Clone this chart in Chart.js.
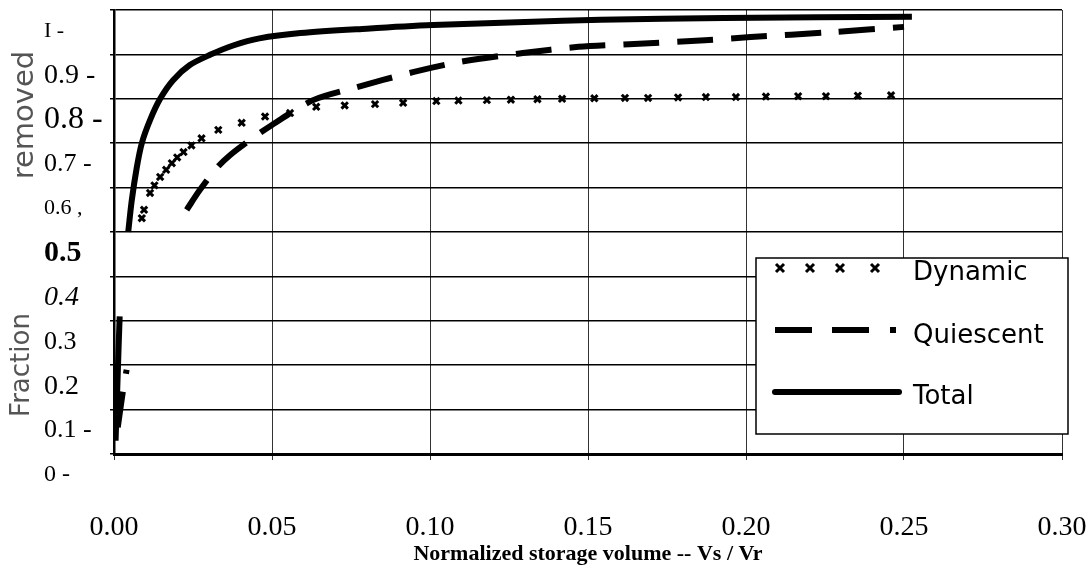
<!DOCTYPE html>
<html>
<head>
<meta charset="utf-8">
<script src="https://cdn.jsdelivr.net/npm/chart.js@4.4.1/dist/chart.umd.min.js"></script>
<style>
html,body{margin:0;padding:0;background:#fff;}
#wrap{width:1086px;height:576px;position:relative;}
</style>
</head>
<body>
<div id="wrap"><canvas id="chart" width="1086" height="576"></canvas></div>
<script>
// values (null = gap in the scan)
const totalX = [0.0005,0.0010,0.0015,0.0018,0.003,0.0045,0.0056,0.0072,0.0088,0.0114,0.0146,0.0187,0.024,0.0304,0.0377,0.046,0.059,0.08,0.101,0.13,0.154,0.193,0.2525];
const totalY = [0.03,0.14,0.25,0.31,null,0.50,0.57,0.645,0.70,0.752,0.80,0.842,0.876,0.899,0.92,0.936,0.948,0.958,0.966,0.973,0.978,0.982,0.985];

const quiesX = [0.0012,0.0028,0.004,0.01,0.023,0.0272,0.0325,0.0367,0.043,0.05,0.063,0.0757,0.0946,0.1095,0.1294,0.147,0.163,0.187,0.2015,0.227,0.250];
const quiesY = [0.06,0.14,0.19,null,0.55,0.595,0.644,0.673,0.707,0.741,0.797,0.824,0.86,0.883,0.903,0.917,0.923,0.932,0.939,0.95,0.962];

const dynX = [0.0088,0.0095,0.0114,0.0128,0.0146,0.0165,0.0183,0.020,0.022,0.0245,0.0277,0.033,0.0404,0.0478,0.0557,0.064,0.073,0.0826,0.0915,0.102,0.109,0.118,0.1256,0.134,0.1418,0.152,0.1617,0.169,0.1785,0.1873,0.1968,0.2063,0.2165,0.2253,0.2354,0.2459];
const dynY = [0.531,0.55,0.588,0.605,0.624,0.64,0.655,0.668,0.68,0.695,0.711,0.73,0.746,0.76,0.768,0.782,0.785,0.788,0.791,0.795,0.796,0.797,0.798,0.799,0.8,0.801,0.802,0.802,0.803,0.804,0.804,0.805,0.806,0.806,0.807,0.808];

const xTickLabels = ["0.00","0.05","0.10","0.15","0.20","0.25","0.30"];
const yTickLabels = ["0 -","0.1 -","0.2","0.3","0.4","0.5","0.6 ,","0.7 -","0.8 -","0.9 -","I -"];
const seriesNames = ["Dynamic","Quiescent","Total"];

// fonts of the y labels as they appear in the scan
const yTickFonts = [
{size:24},{size:26},{size:28},{size:26},{size:28,style:"italic"},{size:30,weight:"bold"},
{size:22},{size:26},{size:32},{size:28},{size:22}
];

function pts(xs,ys){
return xs.map((x,i)=>({x:x,y:ys[i]}));
}

const sideTitles = {
id:"sideTitles",
afterDraw(chart){
const ctx = chart.ctx;
ctx.save();
ctx.fillStyle = "#555";
ctx.textAlign = "center";
ctx.textBaseline = "middle";
ctx.translate(25,115);
ctx.rotate(-Math.PI/2);
ctx.font = "29px 'DejaVu Sans'";
ctx.fillText("removed",0,0);
ctx.restore();
ctx.save();
ctx.fillStyle = "#555";
ctx.textAlign = "center";
ctx.textBaseline = "middle";
ctx.translate(22,365);
ctx.rotate(-Math.PI/2);
ctx.font = "26px 'DejaVu Sans'";
ctx.fillText("Fraction",0,0);
ctx.restore();
}
};

const legendBox = {
id:"legendBox",
afterDraw(chart){
const ctx = chart.ctx, a = chart.chartArea;
const left = a.right-306, top = a.top+248;
ctx.save();
ctx.fillStyle = "#fff";
ctx.strokeStyle = "#000";
ctx.lineWidth = 1.5;
ctx.fillRect(left,top,312,176);
ctx.strokeRect(left,top,312,176);

// Dynamic sample: markers
ctx.lineWidth = 3;
[24,54,84,119].forEach(dx=>{
const x = left+dx, y = top+10;
ctx.beginPath();
ctx.moveTo(x-4,y-4);ctx.lineTo(x+4,y+4);
ctx.moveTo(x+4,y-4);ctx.lineTo(x-4,y+4);
ctx.stroke();
});
// Quiescent sample
ctx.lineWidth = 6;
ctx.setLineDash([37,20]);
ctx.beginPath();
ctx.moveTo(left+19,top+72);ctx.lineTo(left+114,top+72);
ctx.stroke();
ctx.setLineDash([]);
ctx.fillStyle = "#000";
ctx.fillRect(left+134,top+69,6,6);
// Total sample
ctx.lineCap = "round";
ctx.beginPath();
ctx.moveTo(left+19,top+134);ctx.lineTo(left+143,top+134);
ctx.stroke();

ctx.font = "26px 'DejaVu Sans'";
ctx.textBaseline = "middle";
ctx.fillText(seriesNames[0],left+157,top+15);
ctx.fillText(seriesNames[1],left+157,top+78);
ctx.fillText(seriesNames[2],left+157,top+139);
ctx.restore();
}
};

new Chart(
document.getElementById("chart"),
{
type:"scatter",
data:{
datasets:[{
label:seriesNames[0],
data:pts(dynX,dynY),
showLine:false,
pointStyle:"crossRot",
pointRadius:4.5,
borderColor:"#000",
backgroundColor:"#000",
pointBorderWidth:3
},{
label:seriesNames[1],
data:pts(quiesX,quiesY),
showLine:true,
borderColor:"#000",
borderWidth:6,
borderDash:[36,18],
pointRadius:0,
tension:.3
},{
label:seriesNames[2],
data:pts(totalX,totalY),
showLine:true,
borderColor:"#000",
borderWidth:6,
pointRadius:0,
tension:.3
}]
},
options:{
responsive:false,
animation:false,
layout:{padding:{left:44,right:24,top:10,bottom:0}},
plugins:{legend:{display:false},tooltip:{enabled:false}},
scales:{
x:{
type:"linear",
min:0,max:0.3,
afterFit:s=>{s.height=122;s.paddingLeft=0;s.paddingRight=0;},
ticks:{
stepSize:0.05,
padding:51,
color:"#000",
font:{family:"'Liberation Serif'",size:28},
callback:(v,i)=>xTickLabels[i]
},
grid:{color:"#333",lineWidth:1,tickLength:6},
border:{color:"#000",width:3},
title:{
display:true,
text:"Normalized storage volume -- Vs / Vr",
color:"#000",
font:{family:"'Liberation Serif'",size:22,weight:"bold"},
padding:{top:0,bottom:8}
}
},
y:{
min:0,max:1,
afterFit:s=>{s.width=70;s.paddingTop=0;s.paddingBottom=0;},
ticks:{
stepSize:0.1,
crossAlign:"far",
labelOffset:21,
color:"#000",
font:c=>Object.assign({family:"'Liberation Serif'"},yTickFonts[c.index]),
callback:(v,i)=>yTickLabels[i]
},
grid:{color:"#000",lineWidth:1.5,tickLength:4},
border:{color:"#000",width:2.5}
}
}
},
plugins:[sideTitles,legendBox]
});
</script>
</body>
</html>
